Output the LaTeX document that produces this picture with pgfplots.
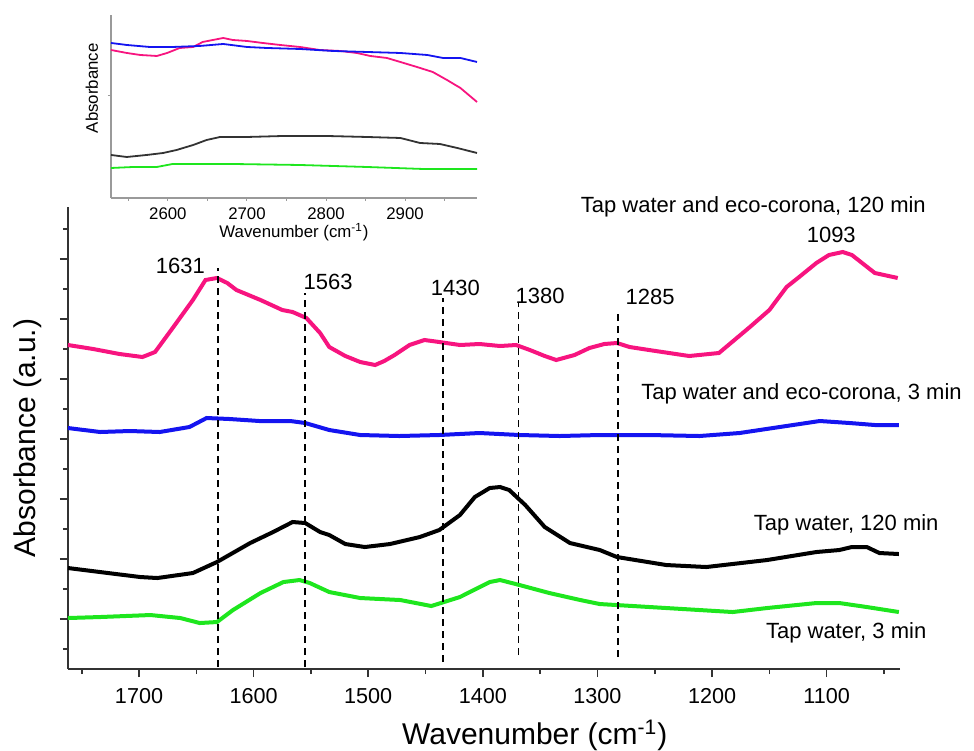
\documentclass[border=0pt]{standalone}
\usepackage{pgfplots}
\pgfplotsset{compat=1.18}
\usepackage{fontspec}
\setmainfont{Liberation Sans}
\definecolor{cpink}{HTML}{F7147F}
\definecolor{cblue}{HTML}{1414F0}
\definecolor{cgreen}{HTML}{1EE61E}
\definecolor{caxis}{HTML}{333333}
\definecolor{cinax}{HTML}{9A9A9A}
\begin{document}
\begin{tikzpicture}
\begin{axis}[
  name=main,
  at={(0,0)}, anchor=south west,
  scale only axis, width=416pt, height=231pt,
  x dir=reverse, xmin=1036, xmax=1762, ymin=0, ymax=462,
  axis x line*=bottom, axis y line*=left,
  axis line style={caxis, line width=1pt},
  every tick/.style={caxis, line width=0.8pt},
  tick align=outside,
  major tick length=4pt, minor tick length=2.5pt,
  xtick={1100,1200,...,1700}, minor xtick={1050,1150,...,1750},
  ytick={50,110,...,410}, minor ytick={20,80,...,440},
  yticklabels={},
  /pgf/number format/assume math mode=true,
  /pgf/number format/1000 sep={},
  xticklabel style={font=\fontsize{10.8}{12}\selectfont, yshift=-2pt},
  clip=false,
]
\path (rel axis cs:-0.0817,-0.1753) rectangle (rel axis cs:1.0889,1.448);
% pink
\addplot[cpink, line width=2pt] coordinates {
(1762,324) (1740,320) (1717,315) (1697,312) (1686,317) (1670,342) (1653,369) (1642,389) (1632,391) (1623,386) (1615,379) (1594,369) (1575,359) (1566,357) (1554,351) (1542,336) (1534,322) (1520,313) (1507,307) (1494,304) (1486,308) (1477,314) (1464,324) (1451,329) (1438,327) (1420,324) (1403,325) (1385,323) (1371,324) (1359,319) (1346,313) (1336,309) (1320,314) (1307,321) (1294,325) (1283,326) (1272,322) (1255,319) (1220,313) (1194,316) (1167,342) (1150,359) (1135,382) (1124,392) (1109,406) (1098,414) (1086,417) (1078,414) (1058,396) (1038,391)};
% blue
\addplot[cblue, line width=2pt] coordinates {
(1762,241) (1734,237) (1708,238) (1682,237) (1656,242) (1641,251) (1621,250) (1595,248) (1568,248) (1555,246) (1534,239) (1507,234) (1473,233) (1438,234) (1403,236) (1368,234) (1333,233) (1298,234) (1255,234) (1211,233) (1176,236) (1141,242) (1106,248) (1080,246) (1058,244) (1037,244)};
% black
\addplot[black, line width=2pt] coordinates {
(1762,101) (1734,97) (1699,92) (1684,91) (1653,96) (1632,107) (1603,126) (1583,137) (1566,147) (1555,146) (1542,137) (1534,134) (1520,125) (1503,122) (1481,125) (1455,132) (1438,139) (1420,154) (1407,172) (1394,181) (1385,182) (1377,179) (1363,164) (1346,142) (1324,126) (1298,119) (1283,112) (1240,104) (1205,102) (1152,109) (1109,117) (1089,119) (1078,122) (1065,122) (1054,116) (1037,115)};
% green
\addplot[cgreen, line width=2pt] coordinates {
(1762,51) (1734,52) (1690,54) (1664,51) (1647,46) (1632,47) (1618,59) (1594,76) (1574,87) (1560,89) (1551,86) (1534,77) (1507,71) (1472,69) (1445,63) (1420,72) (1394,87) (1385,89) (1368,84) (1342,76) (1315,69) (1298,65) (1240,61) (1182,57) (1152,61) (1109,66) (1089,66) (1065,62) (1037,57)};
% dashed markers
\addplot[black, line width=0.8pt, dash pattern=on 3.5pt off 2.5pt] coordinates {(1631,2) (1631,401)};
\addplot[black, line width=0.8pt, dash pattern=on 3.5pt off 2.5pt] coordinates {(1555,2) (1555,376)};
\addplot[black, line width=0.8pt, dash pattern=on 3.5pt off 2.5pt] coordinates {(1435,7) (1435,371)};
\addplot[black, line width=0.8pt, dash pattern=on 3.5pt off 2.5pt] coordinates {(1369,14) (1369,366)};
\addplot[black, line width=0.8pt, dash pattern=on 3.5pt off 2.5pt] coordinates {(1282,12) (1282,356)};
\begin{scope}[every node/.style={font=\fontsize{11}{13}\selectfont, inner sep=0pt}]
\node at (axis cs:1664,403) {1631};
\node at (axis cs:1535,387) {1563};
\node at (axis cs:1424,381) {1430};
\node at (axis cs:1350,373) {1380};
\node at (axis cs:1254,372) {1285};
\node at (axis cs:1096,434) {1093};
\node at (axis cs:1164,462) {Tap water and eco-corona, 120 min};
\node at (axis cs:1122,275) {Tap water and eco-corona, 3 min};
\node at (axis cs:1083,144) {Tap water, 120 min};
\node at (axis cs:1083,36) {Tap water, 3 min};
\node[font=\fontsize{15}{17}\selectfont] at (rel axis cs:0.561,-0.143) {Wavenumber (cm\textsuperscript{-1})};
\node[font=\fontsize{15}{17}\selectfont, rotate=90] at (rel axis cs:-0.048,0.50) {Absorbance (a.u.)};
\end{scope}
\end{axis}

\begin{axis}[
  at={(21.5pt,235.5pt)}, anchor=south west,
  scale only axis, width=183pt, height=91.5pt,
  xmin=2528, xmax=2991, ymin=0, ymax=183,
  axis x line*=bottom, axis y line*=left,
  axis line style={cinax, line width=0.75pt},
  every tick/.style={cinax, line width=0.5pt},
  tick align=outside,
  major tick length=1.5pt, minor tick length=1.5pt,
  xtick={2600,2700,2800,2900}, minor xtick={2550,2650,...,2950},
  ytick={102}, yticklabels={},
  /pgf/number format/assume math mode=true,
  /pgf/number format/1000 sep={},
  xticklabel style={font=\fontsize{8.4}{10}\selectfont, yshift=0pt},
  xlabel={Wavenumber (cm\textsuperscript{-1})},
  xlabel style={font=\fontsize{8.4}{10}\selectfont, yshift=5pt},
  ylabel={Absorbance},
  ylabel style={font=\fontsize{8.4}{10}\selectfont, at={(rel axis cs:-0.052,0.60)}, anchor=center},
  clip=false,
]
\addplot[cpink, line width=0.9pt] coordinates {
(2528,148) (2548,145) (2565,143) (2586,142) (2599,145) (2615,150) (2632,151) (2644,156) (2657,158) (2670,160) (2682,158) (2700,157) (2720,155) (2742,153) (2767,151) (2792,148) (2818,147) (2839,145) (2856,142) (2877,140) (2894,136) (2915,131) (2935,126) (2953,118) (2970,110) (2991,96)};
\addplot[cblue, line width=0.9pt] coordinates {
(2528,155) (2548,153) (2577,151) (2606,151) (2640,152) (2670,154) (2700,151) (2725,150) (2767,149) (2809,147) (2852,146) (2894,145) (2928,143) (2948,140) (2970,140) (2991,136)};
\addplot[black!80, line width=0.9pt] coordinates {
(2528,43) (2548,41) (2573,43) (2594,45) (2611,48) (2632,53) (2649,58) (2666,61) (2700,61) (2746,62) (2801,62) (2852,61) (2894,60) (2919,55) (2944,54) (2966,50) (2991,45)};
\addplot[cgreen, line width=0.9pt] coordinates {
(2528,30) (2556,31) (2586,31) (2606,34) (2682,34) (2767,33) (2852,31) (2923,29) (2991,29)};
\end{axis}
\end{tikzpicture}
\end{document}
